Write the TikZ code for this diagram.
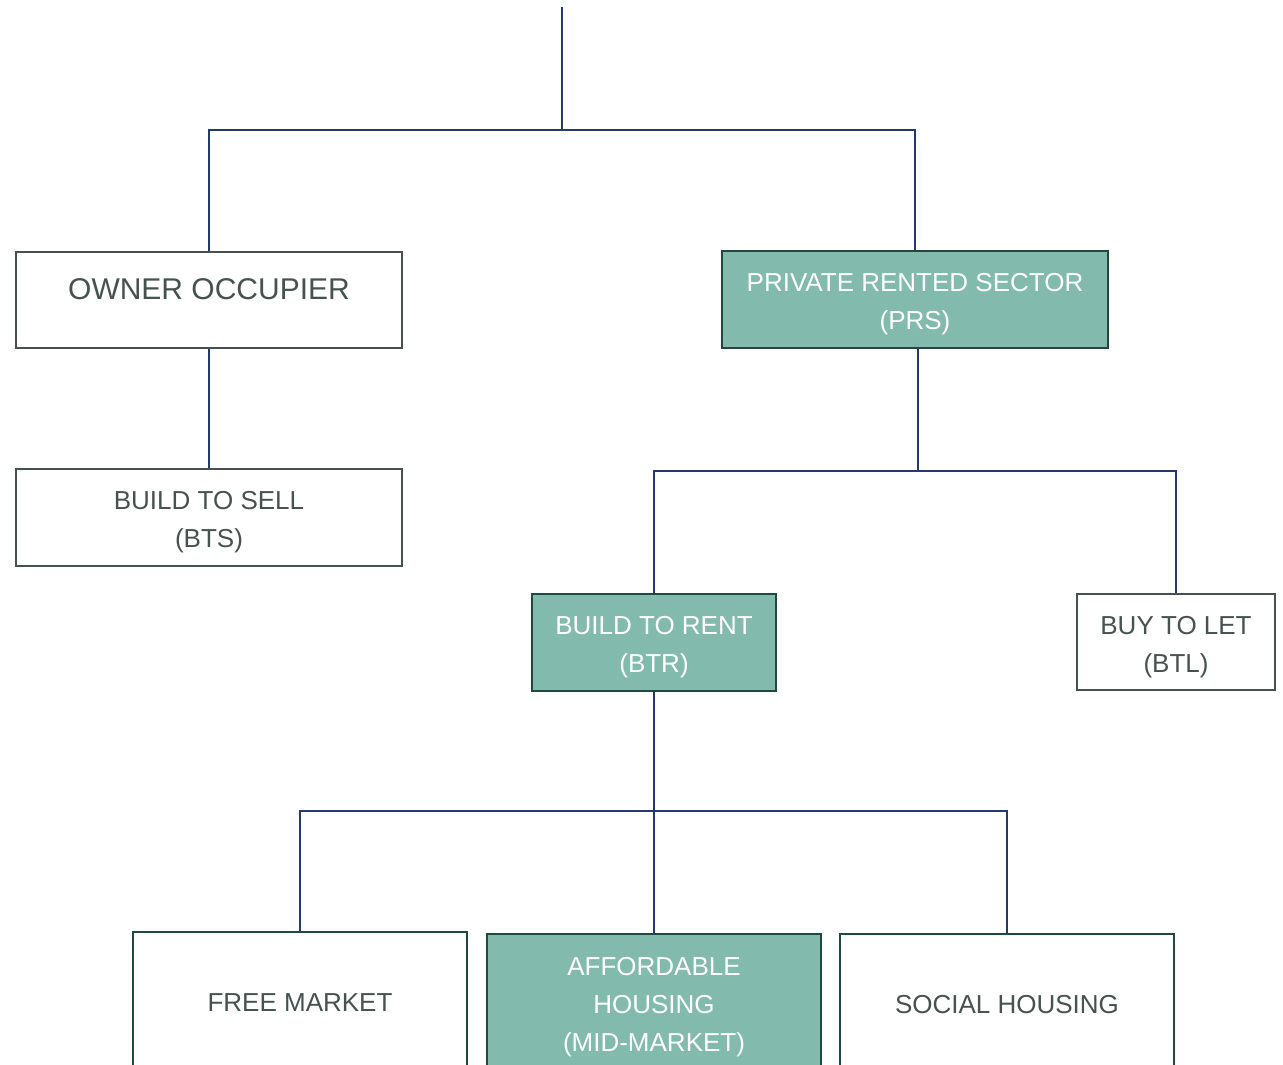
\documentclass[tikz,border=0pt]{standalone}
\usepackage{fontspec}
\setmainfont{Liberation Sans}
\usetikzlibrary{positioning}
\definecolor{linkblue}{HTML}{233A6C}
\definecolor{boxline}{HTML}{45524F}
\definecolor{greenline}{HTML}{22493D}
\definecolor{tealfill}{HTML}{82BBAD}
\definecolor{textgray}{HTML}{46524F}
\newcommand{\toppad}{\rule{0pt}{28pt}}
\tikzset{plain node/.style={rectangle, draw=boxline, line width=1.6pt, fill=white, text=textgray, align=center, inner sep=0pt, font=\fontsize{26}{38}\selectfont},
  teal node/.style={plain node, draw=greenline, fill=tealfill, text=white},
  link/.style={draw=linkblue, line width=1.8pt}
}

\begin{document}
\begin{tikzpicture}[x=1pt, y=-1pt]
          \clip (0,0) rectangle (1283,1065);
          % Top level
          \coordinate (root) at (562,7);
          \coordinate (j1) at (562,130);
          \node[plain node, minimum width=386, minimum height=96, text height=23pt, text depth=24pt, font=\fontsize{30}{38}\selectfont] (oo) at (209,300) {OWNER OCCUPIER};
          \node[teal node, minimum width=386, minimum height=97] (prs) at (915,299.5) {\toppad PRIVATE RENTED SECTOR\\(PRS)};
          % Second level
          \node[plain node, minimum width=386, minimum height=97] (bts) at (209,517.5) {\toppad BUILD TO SELL\\(BTS)};
          \coordinate (j2) at (918,471);
          \node[teal node, minimum width=244, minimum height=97] (btr) at (654,642.5) {\toppad BUILD TO RENT\\(BTR)};
          \node[plain node, minimum width=198, minimum height=96] (btl) at (1176,642) {\toppad BUY TO LET\\(BTL)};
          % Third level
          \coordinate (j3) at (654,811);
          \node[plain node, draw=greenline, minimum width=334, minimum height=142] (fm) at (300,1003) {FREE MARKET};
          \node[teal node, minimum width=334, minimum height=146] (ah) at (654,1007) {AFFORDABLE\\HOUSING\\(MID-MARKET)};
          \node[plain node, draw=greenline, minimum width=334, minimum height=142] (sh) at (1007,1005) {SOCIAL HOUSING};
          % Connections
          \draw[link] (root) -- (j1);
          \draw[link] (oo.north) |- (j1) -| (prs.north);
          \draw[link] (oo) -- (bts);
          \draw[link] (prs.south -| j2) -- (j2);
          \draw[link] (btr.north) |- (j2) -| (btl.north);
          \draw[link] (btr) -- (ah);
          \draw[link] (fm.north) |- (j3) -| (sh.north);
        \end{tikzpicture}
\end{document}
